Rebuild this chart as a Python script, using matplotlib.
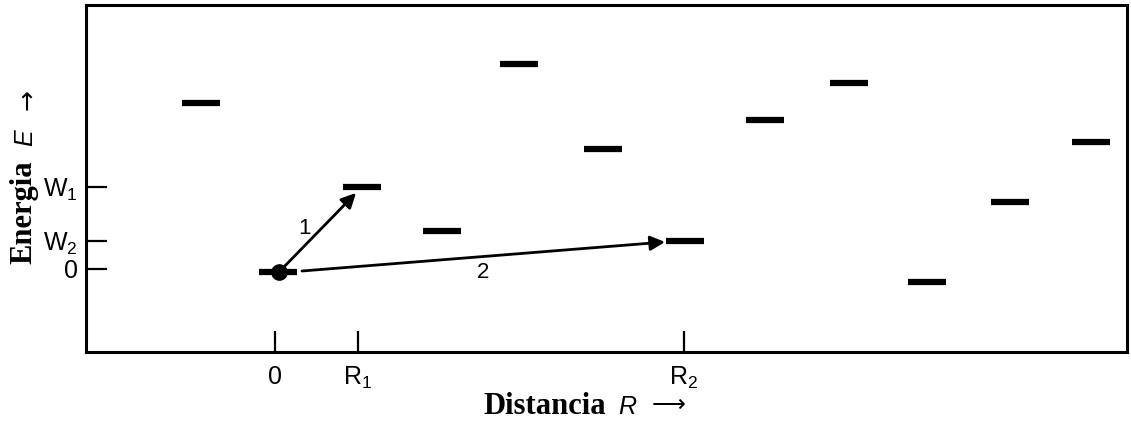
import numpy as np
import matplotlib
matplotlib.use('Agg')
import matplotlib.pyplot as plt

plt.rcParams['font.family'] = 'Liberation Sans'
plt.rcParams['mathtext.fontset'] = 'custom'
plt.rcParams['mathtext.rm'] = 'Liberation Sans'
plt.rcParams['mathtext.it'] = 'Liberation Sans:italic'

# livelli energetici: posizione R e energia E (unita arbitrarie)
level_R = [-7.4, 0.3, 8.7, 16.65, 24.4, 32.8, 40.95, 49.0, 57.4, 65.2, 73.5, 81.6]
level_E = [16.6, -0.3, 8.2, 3.8, 20.5, 12.0, 2.8, 14.9, 18.6, -1.3, 6.7, 12.7]
level_width = 3.8

# tick degli assi
x_ticks = [0, 8.3, 40.9]
x_ticklabels = ['0', 'R$_1$', 'R$_2$']
y_ticks = [0, 2.8, 8.2]
y_ticklabels = ['0', 'W$_2$', 'W$_1$']

# salti tra siti (partenza -> arrivo) e relative etichette
jump_start = [(0.4, -0.3), (2.7, -0.2)]
jump_end = [(8.1, 7.6), (39.0, 2.7)]
jump_labels = ['1', '2']
jump_label_pos = [(3.0, 4.1), (20.8, -0.4)]

W, H = 1131, 421
fig = plt.figure(figsize=(W / 100, H / 100), dpi=100)
ax = fig.add_axes([86 / W, 69 / H, (1127 - 86) / W, (352 - 5) / H])

R = np.array(level_R)
ax.hlines(level_E, R - level_width / 2, R + level_width / 2, color='k', lw=4.5)

# sito occupato all'origine
ax.plot(jump_start[0][0], jump_start[0][1], 'o', ms=11, color='k')

for (x0, y0), (x1, y1), lab, (lx, ly) in zip(jump_start, jump_end, jump_labels, jump_label_pos):
    ax.annotate('', xy=(x1, y1), xytext=(x0, y0),
                arrowprops=dict(arrowstyle='-|>', color='k', lw=2.0,
                                mutation_scale=22, shrinkA=0, shrinkB=0))
    ax.text(lx, ly, lab, fontsize=16, ha='center', va='center')

ax.set_xlim(-18.9, 85.2)
ax.set_ylim(-8.3, 26.4)

ax.set_xticks(x_ticks)
ax.set_xticklabels(x_ticklabels)
ax.set_yticks(y_ticks)
ax.set_yticklabels(y_ticklabels)
ax.tick_params(direction='in', length=15, width=1.6, labelsize=18, colors='k')
ax.tick_params(axis='x', pad=9)
ax.tick_params(axis='y', pad=6)

for sp in ax.spines.values():
    sp.set_linewidth(2.2)

# etichette degli assi
fig.text(545 / W, 1 - 406 / H, 'Distancia', fontsize=22, fontweight='bold',
         family='Liberation Serif', ha='center', va='center')
fig.text(628 / W, 1 - 407 / H, '$R$', fontsize=18, ha='center', va='center')
fig.text(669 / W, 1 - 405 / H, '⟶', fontsize=17, family='DejaVu Sans',
         ha='center', va='center')
fig.text(24 / W, 1 - 212 / H, 'Energia', fontsize=22, fontweight='bold',
         family='Liberation Serif', ha='center', va='center', rotation=90)
fig.text(26 / W, 1 - 138 / H, '$E$', fontsize=18, ha='center', va='center',
         rotation=90)
fig.text(27 / W, 1 - 100 / H, '→', fontsize=18, family='DejaVu Sans',
         ha='center', va='center', rotation=90)

fig.savefig('out.png', dpi=100)
